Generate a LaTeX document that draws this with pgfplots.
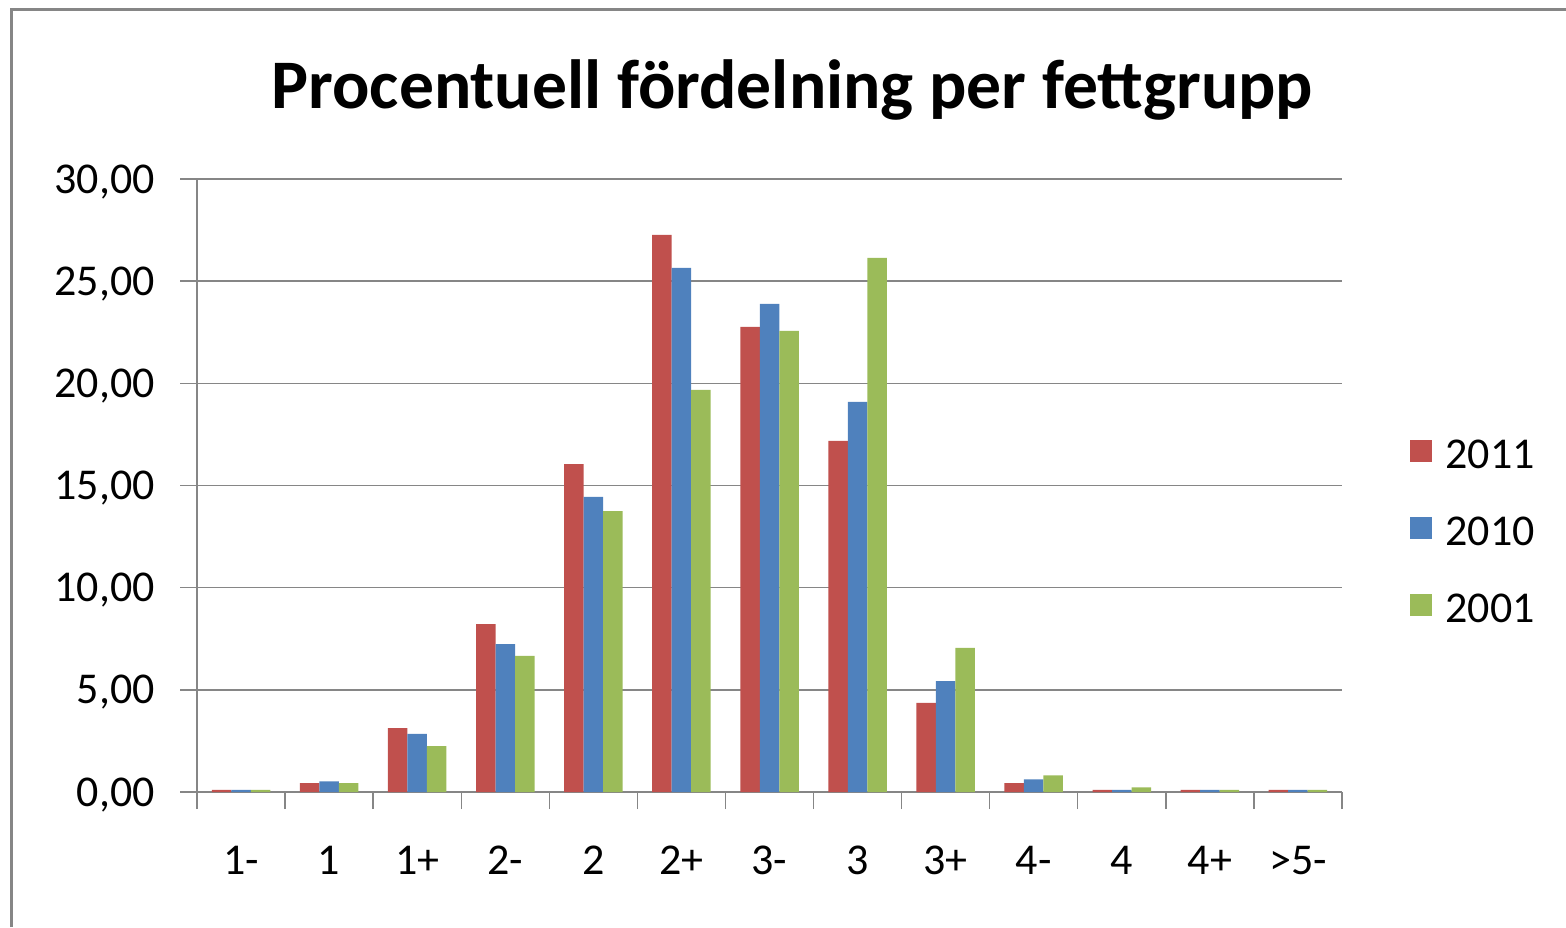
\documentclass[border=0pt]{standalone}
\usepackage{pgfplots}
\pgfplotsset{compat=1.18}
\usepackage{fontspec}
\setmainfont{Carlito}
\definecolor{cRed}{HTML}{C0504D}
\definecolor{cBlue}{HTML}{4F81BD}
\definecolor{cGreen}{HTML}{9BBB59}
\definecolor{cGrid}{HTML}{868686}
\begin{document}
\begin{tikzpicture}
\path[use as bounding box] (0,0) rectangle (783pt,463.5pt);
\begin{axis}[
  at={(98.5pt,67.5pt)}, anchor=south west,
  scale only axis, width=572.5pt, height=306.5pt,
  ybar=0pt, bar width=9.75pt,
  xmin=-0.5, xmax=12.5, ymin=0, ymax=30,
  xtick={-0.5,0.5,...,12.5},
  xticklabels={},
  extra x ticks={0,...,12},
  extra x tick labels={1-,1,1+,2-,2,2+,3-,3,3+,4-,4,4+,>5-},
  extra x tick style={major tick length=0pt, xticklabel style={inner sep=0pt, text height=14pt, text depth=0pt, anchor=north, yshift=-27pt}},
  ytick={0,5,...,30},
  axis lines*=left,
  axis line style={cGrid, line width=0.7pt},
  tick align=outside,
  major tick length=8.5pt,
  tick style={cGrid, line width=0.7pt},
  ymajorgrids, grid style={cGrid, line width=0.7pt},
  tick label style={font=\fontsize{22}{26}\selectfont},
  yticklabel style={inner sep=0pt, text height=14pt, text depth=0pt, anchor=east, xshift=-12.5pt,
    /pgf/number format/assume math mode=true,
    /pgf/number format/fixed, /pgf/number format/fixed zerofill,
    /pgf/number format/precision=2, /pgf/number format/use comma},
  title={Procentuell fördelning per fettgrupp},
  title style={font=\fontsize{34.8}{40}\selectfont\bfseries, at={(0.52,1)}, anchor=base, yshift=29.5pt},
  legend style={at={(1.0594,0.4253)}, anchor=west, draw=none, fill=none, inner sep=0pt,
    font=\fontsize{22}{26}\selectfont, row sep=24pt, column sep=6.5pt,
    nodes={inner sep=0pt, text height=14pt, text depth=0pt}},
  legend cell align=left,
  every axis plot post/.append style={legend image code/.code={\fill[##1] (0pt,-3.5pt) rectangle (11pt,7.5pt);}},
]
\addplot[fill=cRed, draw=none] coordinates {(0,0.1) (1,0.43) (2,3.13) (3,8.22) (4,16.05) (5,27.26) (6,22.76) (7,17.18) (8,4.36) (9,0.43) (10,0.1) (11,0.1) (12,0.1)};
\addplot[fill=cBlue, draw=none] coordinates {(0,0.1) (1,0.52) (2,2.84) (3,7.24) (4,14.44) (5,25.65) (6,23.89) (7,19.09) (8,5.43) (9,0.62) (10,0.1) (11,0.1) (12,0.1)};
\addplot[fill=cGreen, draw=none] coordinates {(0,0.1) (1,0.43) (2,2.25) (3,6.66) (4,13.75) (5,19.68) (6,22.57) (7,26.14) (8,7.05) (9,0.82) (10,0.23) (11,0.1) (12,0.1)};
\legend{2011,2010,2001}
\end{axis}
\draw[cGrid, line width=1.5pt] (5.5pt,0) -- (5.5pt,458.5pt) -- (783pt,458.5pt);
\end{tikzpicture}
\end{document}
